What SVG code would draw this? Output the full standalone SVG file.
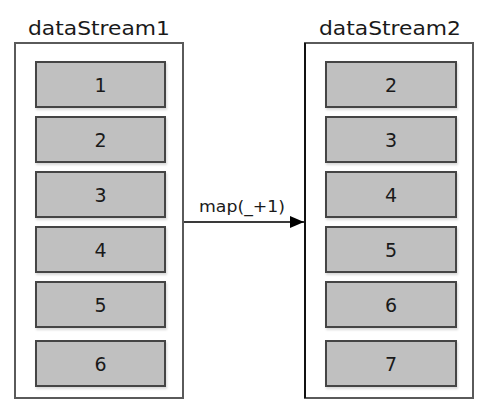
<svg xmlns="http://www.w3.org/2000/svg" width="482" height="408" viewBox="0 0 482 408">
<defs>
<style>
.container{fill:#ffffff;stroke:#5a5a5a;stroke-width:2}
.item{fill:#c0c0c0;stroke:#454545;stroke-width:2}
.title{font-family:"DejaVu Sans","Liberation Sans",sans-serif;font-size:19px;fill:#1a1a1a;text-anchor:middle}
.num{font-family:"DejaVu Sans","Liberation Sans",sans-serif;font-size:19px;fill:#1a1a1a;text-anchor:middle}
.label{font-family:"DejaVu Sans","Liberation Sans",sans-serif;font-size:15px;fill:#1a1a1a;text-anchor:middle}
</style>
<marker id="arrow" markerWidth="14" markerHeight="12" refX="14" refY="6" orient="auto" markerUnits="userSpaceOnUse">
<path d="M0,0 L14,6 L0,12 Z" fill="#000000"/>
</marker>
<filter id="sh" x="-5%" y="-5%" width="115%" height="125%">
<feDropShadow dx="1" dy="2" stdDeviation="1.2" flood-color="#000000" flood-opacity="0.15"/>
</filter>
</defs>
<g id="dataStream1">
<text class="title" x="99" y="35" textLength="142" lengthAdjust="spacingAndGlyphs">dataStream1</text>
<rect class="container" x="15" y="43" width="168" height="355"/>
<g id="ds1-1"><rect class="item" filter="url(#sh)" x="36" y="62" width="129" height="45"/><text class="num" x="100.5" y="92">1</text></g>
<g id="ds1-2"><rect class="item" filter="url(#sh)" x="36" y="117" width="129" height="45"/><text class="num" x="100.5" y="147">2</text></g>
<g id="ds1-3"><rect class="item" filter="url(#sh)" x="36" y="172" width="129" height="45"/><text class="num" x="100.5" y="202">3</text></g>
<g id="ds1-4"><rect class="item" filter="url(#sh)" x="36" y="227" width="129" height="45"/><text class="num" x="100.5" y="257">4</text></g>
<g id="ds1-5"><rect class="item" filter="url(#sh)" x="36" y="282" width="129" height="45"/><text class="num" x="100.5" y="312">5</text></g>
<g id="ds1-6"><rect class="item" filter="url(#sh)" x="36" y="341" width="129" height="45"/><text class="num" x="100.5" y="371">6</text></g>
</g>
<g id="dataStream2">
<text class="title" x="390" y="35" textLength="142" lengthAdjust="spacingAndGlyphs">dataStream2</text>
<rect class="container" x="305" y="43" width="168" height="355"/>
<line x1="305" y1="43" x2="305" y2="398" stroke="#111111" stroke-width="2"/>
<g id="ds2-2"><rect class="item" filter="url(#sh)" x="326" y="62" width="130" height="45"/><text class="num" x="391" y="92">2</text></g>
<g id="ds2-3"><rect class="item" filter="url(#sh)" x="326" y="117" width="130" height="45"/><text class="num" x="391" y="147">3</text></g>
<g id="ds2-4"><rect class="item" filter="url(#sh)" x="326" y="172" width="130" height="45"/><text class="num" x="391" y="202">4</text></g>
<g id="ds2-5"><rect class="item" filter="url(#sh)" x="326" y="227" width="130" height="45"/><text class="num" x="391" y="257">5</text></g>
<g id="ds2-6"><rect class="item" filter="url(#sh)" x="326" y="282" width="130" height="45"/><text class="num" x="391" y="312">6</text></g>
<g id="ds2-7"><rect class="item" filter="url(#sh)" x="326" y="341" width="130" height="45"/><text class="num" x="391" y="371">7</text></g>
</g>
<g id="connectors">
<line x1="184" y1="222" x2="304" y2="222" stroke="#3a3a3a" stroke-width="2" marker-end="url(#arrow)"/>
<text class="label" x="242" y="212" textLength="86" lengthAdjust="spacingAndGlyphs">map(_+1)</text>
</g>
</svg>
